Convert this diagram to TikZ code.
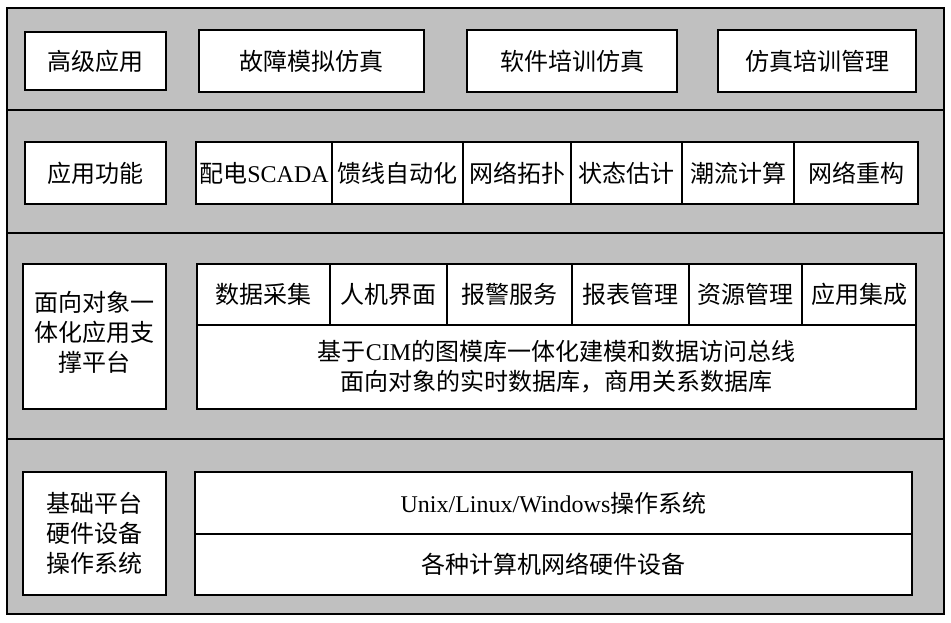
\documentclass[tikz,border=0pt]{standalone}
\usepackage{fontspec}
\setmainfont{Noto Sans CJK SC}
\newfontfamily\lat{Liberation Serif}
\definecolor{bandgray}{RGB}{192,192,192}
\tikzset{
  box/.style={draw=black, line width=2.4pt, fill=white, inner sep=0pt, align=center,
    font=\fontsize{24}{30}\selectfont},
  band/.style={draw=black, line width=2.8pt, fill=bandgray, inner sep=0pt},
  lbl/.style={inner sep=0pt, align=center, font=\fontsize{24}{30}\selectfont},
}
\newcommand\rnode[7]{\node[#1,minimum width={#5-#3},minimum height={#6-#4}] (#2) at ({(#3+#5)/2},{(#4+#6)/2}) {#7};}
\begin{document}
\begin{tikzpicture}[x=1pt,y=-1pt]
\useasboundingbox (0,0) rectangle (951,623);
% bands
\rnode{band}{b1}{7}{8}{944}{110}{}
\rnode{band}{b2}{7}{110}{944}{233}{}
\rnode{band}{b3}{7}{233}{944}{439}{}
\rnode{band}{b4}{7}{439}{944}{614}{}
% row 1
\rnode{box}{gj}{25}{32}{166}{90}{高级应用}
\rnode{box}{gz}{199}{30}{424}{92}{故障模拟仿真}
\rnode{box}{rj}{467}{30}{677}{92}{软件培训仿真}
\rnode{box}{fz}{718}{30}{916}{92}{仿真培训管理}
% row 2
\rnode{box}{yy}{25}{142}{166}{204}{应用功能}
\rnode{box}{f1}{196}{142}{332}{204}{配电{\lat SCADA}}
\rnode{box}{f2}{332}{142}{463}{204}{馈线自动化}
\rnode{box}{f3}{463}{142}{571}{204}{网络拓扑}
\rnode{box}{f4}{571}{142}{682}{204}{状态估计}
\rnode{box}{f5}{682}{142}{794}{204}{潮流计算}
\rnode{box}{f6}{794}{142}{918}{204}{网络重构}
% row 3
\rnode{box}{mx}{23}{264}{166}{409}{}
\node[lbl] (mxt) at (94.5,332) {面向对象一\\体化应用支\\撑平台};
\rnode{box}{db}{197}{325}{916}{409}{基于{\lat CIM}的图模库一体化建模和数据访问总线\\面向对象的实时数据库，商用关系数据库}
\rnode{box}{s1}{197}{264}{330}{325}{数据采集}
\rnode{box}{s2}{330}{264}{447}{325}{人机界面}
\rnode{box}{s3}{447}{264}{572}{325}{报警服务}
\rnode{box}{s4}{572}{264}{689}{325}{报表管理}
\rnode{box}{s5}{689}{264}{802}{325}{资源管理}
\rnode{box}{s6}{802}{264}{916}{325}{应用集成}
% row 4
\rnode{box}{jc}{23}{472}{166}{595}{基础平台\\硬件设备\\操作系统}
\rnode{box}{os}{195}{472}{912}{534}{{\lat Unix/Linux/Windows}操作系统}
\rnode{box}{hw}{195}{534}{912}{595}{各种计算机网络硬件设备}
\end{tikzpicture}
\end{document}
